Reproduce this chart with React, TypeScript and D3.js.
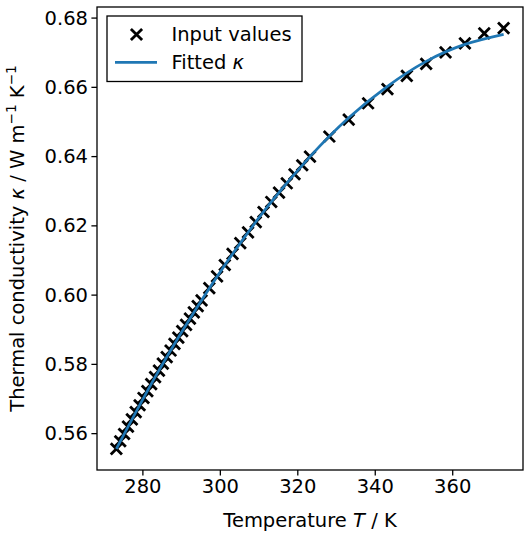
import React from "react";
import * as d3 from "d3";

const temps: number[] = [
  273.15, 274.15, 275.15, 276.15, 277.15, 278.15, 279.15, 280.15, 281.15, 282.15,
  283.15, 284.15, 285.15, 286.15, 287.15, 288.15, 289.15, 290.15, 291.15, 292.15,
  293.15, 294.15, 295.15, 297.15, 299.15, 301.15, 303.15, 305.15, 307.15, 309.15,
  311.15, 313.15, 315.15, 317.15, 319.15, 321.15, 323.15, 328.15, 333.15, 338.15,
  343.15, 348.15, 353.15, 358.15, 363.15, 368.15, 373.15,
];
const kappa: number[] = [
  0.5556, 0.5578, 0.5599, 0.562, 0.5641, 0.5662, 0.5682, 0.5703, 0.5723, 0.5743,
  0.5763, 0.5782, 0.5802, 0.5821, 0.584, 0.5859, 0.5877, 0.5896, 0.5914, 0.5932,
  0.595, 0.5968, 0.5985, 0.602, 0.6054, 0.6087, 0.6119, 0.615, 0.6181, 0.6211,
  0.624, 0.6269, 0.6296, 0.6323, 0.6349, 0.6375, 0.64, 0.6458, 0.6507, 0.6554,
  0.6595, 0.6633, 0.6668, 0.6701, 0.6727, 0.6756, 0.6771,
];
const fitT: number[] = [273.15, 283.15, 293.15, 303.15, 313.15, 323.15, 333.15, 343.15, 353.15, 363.15, 373.15];
const fitK: number[] = [0.5556, 0.5763, 0.595, 0.6119, 0.6269, 0.64, 0.6512, 0.6603, 0.6675, 0.6724, 0.6753];
const xTicks: number[] = [280, 300, 320, 340, 360];
const yTicks: number[] = [0.56, 0.58, 0.6, 0.62, 0.64, 0.66, 0.68];

const W = 530, H = 537;
const L = 97, R = 523, T = 7, B = 470;
const FONT = "DejaVu Sans";
const FS = 19.5;
const BLUE = "#1f77b4";

export default function App() {
  const x = d3.scaleLinear().domain([268.15, 378.15]).range([L, R]);
  const y = d3.scaleLinear().domain([0.5495, 0.6832]).range([B, T]);
  const line = d3
    .line<number>()
    .x((_, i) => x(fitT[i]))
    .y((d) => y(d))
    .curve(d3.curveNatural);
  const ms = 5.6;
  const cross = (cx: number, cy: number, key: any) => (
    <path
      key={key}
      d={`M${cx - ms},${cy - ms}L${cx + ms},${cy + ms}M${cx - ms},${cy + ms}L${cx + ms},${cy - ms}`}
      stroke="#000"
      strokeWidth={2.8}
      fill="none"
    />
  );
  return (
    <svg
      width={W}
      height={H}
      style={{ position: "absolute", left: 0, top: 0, background: "#fff" }}
      fontFamily={FONT}
      fontSize={FS}
    >
      <rect x={0} y={0} width={W} height={H} fill="#fff" />
      <defs>
        <clipPath id="clip">
          <rect x={L} y={T} width={R - L} height={B - T} />
        </clipPath>
      </defs>
      <g clipPath="url(#clip)">
        {temps.map((t, i) => cross(x(t), y(kappa[i]), i))}
        <path d={line(fitK) || ""} stroke={BLUE} strokeWidth={2.7} fill="none" />
      </g>
      <rect x={L} y={T} width={R - L} height={B - T} fill="none" stroke="#000" strokeWidth={1.3} />
      {xTicks.map((t) => (
        <g key={t}>
          <line x1={x(t)} x2={x(t)} y1={B} y2={B + 5.6} stroke="#000" strokeWidth={1.3} />
          <text x={x(t)} y={B + 9} textAnchor="middle" dominantBaseline="hanging">
            {t}
          </text>
        </g>
      ))}
      {yTicks.map((t) => (
        <g key={t}>
          <line x1={L - 5.6} x2={L} y1={y(t)} y2={y(t)} stroke="#000" strokeWidth={1.3} />
          <text x={L - 9} y={y(t)} textAnchor="end" dominantBaseline="central">
            {t.toFixed(2)}
          </text>
        </g>
      ))}
      <text x={(L + R) / 2} y={527} textAnchor="middle">
        Temperature <tspan fontStyle="italic">T</tspan> / K
      </text>
      <text transform={`translate(24,${(T + B) / 2}) rotate(-90)`} textAnchor="middle">
        Thermal conductivity <tspan fontStyle="italic">κ</tspan> / W m
        <tspan baselineShift="super" fontSize={FS * 0.7}>−1</tspan> K
        <tspan baselineShift="super" fontSize={FS * 0.7}>−1</tspan>
      </text>
      <g>
        <rect x={107} y={16} width={195} height={65.5} fill="#fff" stroke="#000" strokeWidth={1.3} />
        {cross(136.5, 34.5, "leg")}
        <line x1={115} x2={157} y1={62.3} y2={62.3} stroke={BLUE} strokeWidth={2.7} />
        <text x={171.5} y={34.5} dominantBaseline="central">Input values</text>
        <text x={171.5} y={62.3} dominantBaseline="central">
          Fitted <tspan fontStyle="italic">κ</tspan>
        </text>
      </g>
    </svg>
  );
}
